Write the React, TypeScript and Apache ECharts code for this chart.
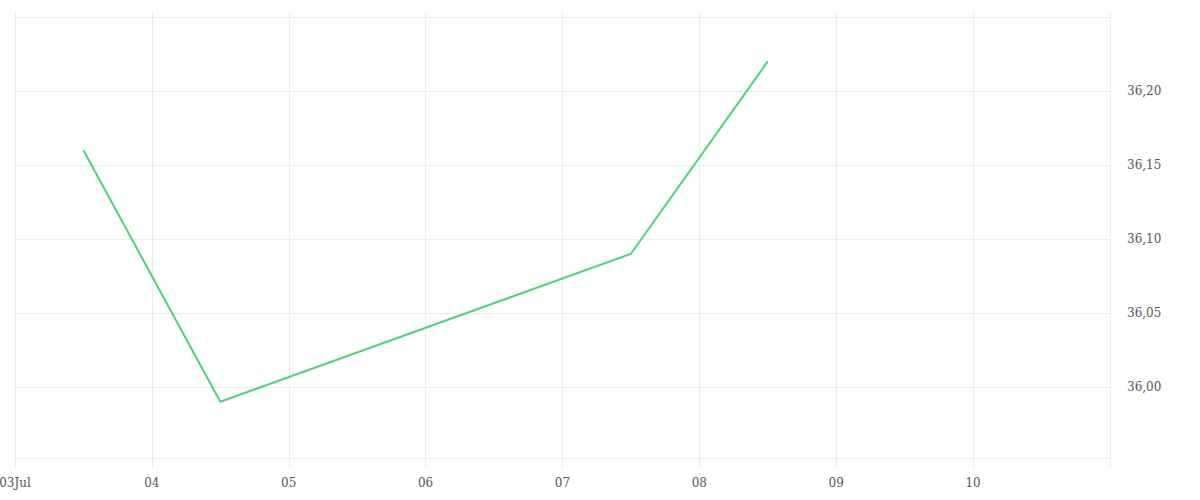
import React, { useEffect, useRef } from "react";
import * as echarts from "echarts";

const dates = ["2024-07-03 12:00", "2024-07-04 12:00", "2024-07-07 12:00", "2024-07-08 12:00"];
const values = [36.16, 35.99, 36.09, 36.22];
const xMin = "2024-07-03 00:00";
const xMax = "2024-07-11 00:00";
const yMin = 35.952;
const yMax = 36.25;

const DAY = 86400000;
const FONT = "DejaVu Serif";

export default function App() {
  const ref = useRef<HTMLDivElement>(null);
  useEffect(() => {
    if (!ref.current) return;
    const chart = echarts.init(ref.current, null, { renderer: "svg" });
    const fmtX = (v: number) => {
      const d = new Date(v);
      const day = String(d.getDate()).padStart(2, "0");
      return d.getDate() === 3 ? day + "Jul" : day;
    };
    chart.setOption({
      animation: false,
      grid: [
        { left: 15, right: 90, top: 17, bottom: 42, containLabel: false, outerBoundsMode: "none" },
        { left: 15, right: 90, top: 12, bottom: 32, containLabel: false, outerBoundsMode: "none" },
      ],
      xAxis: [
        { type: "time", gridIndex: 0, min: xMin, max: xMax, show: false },
        {
          type: "time",
          gridIndex: 1,
          min: xMin,
          max: xMax,
          minInterval: DAY,
          maxInterval: DAY,
          axisLine: { show: false },
          axisTick: { show: false },
          splitLine: { show: true, lineStyle: { color: "#ececec", width: 1 } },
          axisLabel: {
            margin: 9,
            color: "#555",
            fontFamily: FONT,
            fontSize: 12,
            showMaxLabel: false,
            formatter: fmtX,
          },
        },
      ],
      yAxis: [
        {
          type: "value",
          gridIndex: 0,
          position: "right",
          min: yMin,
          max: yMax,
          splitNumber: 5,
          axisLine: { show: false },
          axisTick: { show: false },
          splitLine: { show: true, lineStyle: { color: "#ececec", width: 1 } },
          axisLabel: {
            margin: 17,
            color: "#555",
            fontFamily: FONT,
            fontSize: 12,
            showMinLabel: false,
            showMaxLabel: false,
            formatter: (v: number) => v.toFixed(2).replace(".", ","),
          },
        },
        { type: "value", gridIndex: 1, show: false, splitLine: { show: false } },
      ],
      series: [
        {
          type: "line",
          xAxisIndex: 0,
          yAxisIndex: 0,
          data: dates.map((d, i) => [d, values[i]]),
          showSymbol: false,
          symbol: "none",
          lineStyle: { color: "#4cd47b", width: 2 },
        },
      ],
    });
    return () => chart.dispose();
  }, []);
  return (
    <div
      ref={ref}
      style={{ position: "fixed", left: 0, top: 0, width: 1200, height: 500, background: "#fff" }}
    />
  );
}
